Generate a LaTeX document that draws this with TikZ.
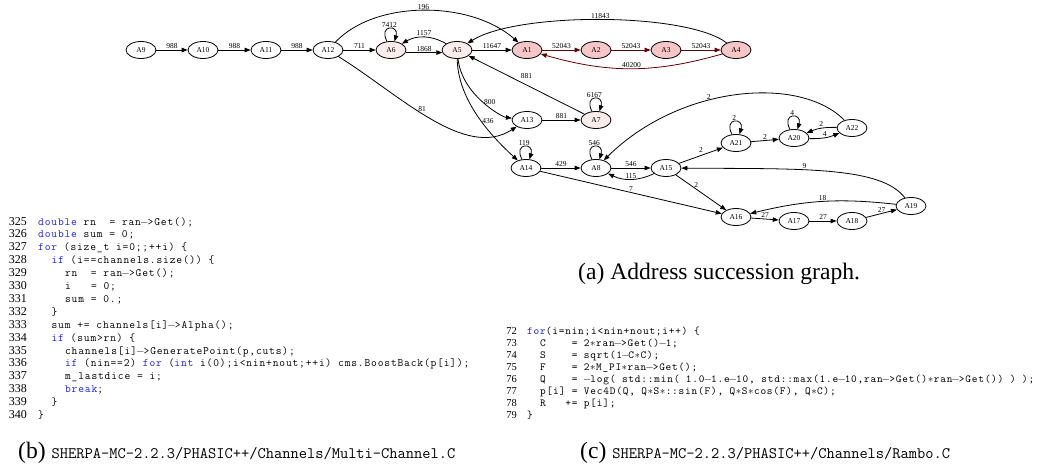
\documentclass[tikz,border=0pt]{standalone}
\usepackage{fontspec}
\setmainfont{Liberation Serif}
\newfontfamily\codefont[LetterSpace=7.5]{Latin Modern Mono}
\usepackage{xcolor}
\usepackage{tikz}
\usetikzlibrary{arrows.meta,shapes.geometric}

\definecolor{hotfill}{RGB}{248,198,198}
\definecolor{warmfill}{RGB}{253,236,236}
\definecolor{hotedge}{RGB}{100,0,0}
\definecolor{kwblue}{RGB}{30,30,235}

\newcommand{\kw}[1]{\textcolor{kwblue}{#1}}
\newcommand{\cmi}{\makebox[0.6em]{\(-\)}}
\newcommand{\cst}{\makebox[0.6em]{\(*\)}}
\newcommand{\csk}{\hspace{0.6em}}
\newcommand{\codeset}[1]{\fontsize{#1}{12}\codefont\spaceskip=0.6em\relax}
\newcommand{\pathfont}{\fontsize{16}{18}\selectfont\ttfamily}

\tikzset{
  addr/.style={draw, ellipse, line width=0.8pt, minimum width=30pt, minimum height=17pt, inner sep=0pt, font=\fontsize{7.5}{8}\selectfont},
  warm/.style={addr, fill=warmfill},
  hot/.style={addr, fill=hotfill},
  succ/.style={-{Triangle[length=6pt,width=4.5pt]}, line width=0.8pt},
  hotpath/.style={succ, draw=hotedge},
  lab/.style={inner sep=1pt, font=\fontsize{7.5}{8}\selectfont},
  lnumb/.style={anchor=base east, inner sep=0pt, font=\fontsize{12}{12}\selectfont},
  lnumc/.style={anchor=base east, inner sep=0pt, font=\fontsize{10.5}{12}\selectfont},
  codeb/.style={anchor=base west, inner sep=0pt, font=\codeset{11.2}},
  codec/.style={anchor=base west, inner sep=0pt, font=\codeset{10.8}},
  capt/.style={anchor=base west, inner sep=0pt, font=\fontsize{23.6}{26}\selectfont}
}

\begin{document}
\begin{tikzpicture}[x=1pt,y=1pt]
\useasboundingbox (0,0) rectangle (1051,-465);

\node[addr] (A9) at (141,-50) {A9};
\node[addr] (A10) at (203,-50) {A10};
\node[addr] (A11) at (266,-50) {A11};
\node[addr] (A12) at (328,-50) {A12};
\node[warm] (A6) at (391,-50) {A6};
\node[warm] (A5) at (457,-50) {A5};
\node[hot] (A1) at (527,-50) {A1};
\node[hot] (A2) at (596,-50) {A2};
\node[hot] (A3) at (666,-50) {A3};
\node[hot] (A4) at (736,-50) {A4};
\node[addr] (A13) at (527,-120) {A13};
\node[warm] (A7) at (596,-120) {A7};
\node[addr] (A14) at (526,-168) {A14};
\node[addr] (A8) at (596,-168) {A8};
\node[addr] (A15) at (666,-168) {A15};
\node[addr] (A21) at (736,-143) {A21};
\node[addr] (A20) at (794,-138) {A20};
\node[addr] (A22) at (852,-128) {A22};
\node[addr] (A16) at (736,-217) {A16};
\node[addr] (A17) at (794,-221) {A17};
\node[addr] (A18) at (852,-221) {A18};
\node[addr] (A19) at (911,-206) {A19};

\foreach \s/\t/\w in {A9/A10/988, A10/A11/988, A11/A12/988, A12/A6/711, A5/A1/11647, A13/A7/881,
    A14/A8/429, A8/A15/546, A21/A20/2, A16/A17/27, A17/A18/27, A18/A19/27, A14/A16/7}
  \draw[succ] (\s) -- (\t) node[lab, midway, above] {\w};
\foreach \s/\t in {A1/A2, A2/A3, A3/A4}
  \draw[hotpath] (\s) -- (\t) node[lab, midway, above] {52043};
\foreach \a/\w in {A6/7412, A7/6167, A14/119, A8/546, A21/2, A20/4}
  \draw[succ] (\a.115) .. controls +(-9,17) and +(5,17) .. (\a.68) node[lab, midway, above] {\w};

\draw[succ] (A12) .. controls +(47,50) and +(-57,50) .. (A1) node[lab, midway, above] {196};
\draw[succ] (A5) to[bend right=30] node[lab, above] {1157} (A6);
\draw[succ] (A6.-10) -- (A5.190) node[lab, midway, above] {1868};
\draw[hotpath] (A4) to[bend left=16] node[lab, above] {40200} (A1);
\draw[succ] (A4) .. controls +(-50,38) and +(60,38) .. (A5) node[lab, midway, above] {11843};
\draw[succ] (A7) -- (A5) node[lab, midway, above=5pt] {881};
\draw[succ] (A5) .. controls +(5,-45) and +(-25,3) .. (A13) node[lab, pos=0.5, right] {800};
\draw[succ] (A5) .. controls +(1,-50) and +(-36,33) .. (A14) node[lab, pos=0.55, right] {436};
\draw[succ] (A12) .. controls +(72,-45) and +(-62,-40) .. (A13) node[lab, pos=0.45, above] {81};
\draw[succ] (A15) to[bend left=25] node[lab, above=-0.5pt] {115} (A8);
\draw[succ] (A15) -- (A16) node[lab, pos=0.3, right=2pt] {2};
\draw[succ] (A15) -- (A21) node[lab, midway, above=2pt] {2};
\draw[succ] (A22) to[bend right=12] node[lab, above] {2} (A20);
\draw[succ] (A20) to[bend right=12] node[lab, above] {4} (A22);
\draw[succ] (A22) .. controls +(-52,53) and +(84,83) .. (A8) node[lab, pos=0.6, above] {2};
\draw[succ] (A19) .. controls +(-30,40) and +(134,-1) .. (A15) node[lab, pos=0.6, above] {9};
\draw[succ] (A19) to[bend right=10] node[lab, above] {18} (A16);

\node[capt] (capa) at (578,-279) {(a) Address succession graph.};

\foreach \n [count=\k from 0] in {325,...,340}
  \node[lnumb] (nb\n) at (27,{-225-12.9*\k}) {\n};
\node[codeb] (cb325) at (38,-225) {\kw{double} rn\csk{} = ran\cmi>Get();};
\node[codeb] (cb326) at (38,-237.9) {\kw{double} sum = 0;};
\node[codeb] (cb327) at (38,-250.8) {\kw{for} (size\_t i=0;;++i) \{};
\node[codeb] (cb328) at (51.4,-263.7) {\kw{if} (i==channels.size()) \{};
\node[codeb] (cb329) at (64.9,-276.6) {rn\csk{} = ran\cmi>Get();};
\node[codeb] (cb330) at (64.9,-289.5) {i\csk\csk{} = 0;};
\node[codeb] (cb331) at (64.9,-302.4) {sum = 0.;};
\node[codeb] (cb332) at (51.4,-315.3) {\}};
\node[codeb] (cb333) at (51.4,-328.2) {sum += channels[i]\cmi>Alpha();};
\node[codeb] (cb334) at (51.4,-341.1) {\kw{if} (sum>rn) \{};
\node[codeb] (cb335) at (64.9,-354) {channels[i]\cmi>GeneratePoint(p,cuts);};
\node[codeb] (cb336) at (64.9,-366.9) {\kw{if} (nin==2) \kw{for} (\kw{int} i(0);i<nin+nout;++i) cms.BoostBack(p[i]);};
\node[codeb] (cb337) at (64.9,-379.8) {m\_lastdice = i;};
\node[codeb] (cb338) at (64.9,-392.7) {\kw{break};};
\node[codeb] (cb339) at (51.4,-405.6) {\}};
\node[codeb] (cb340) at (38,-418.5) {\}};
\node[capt] (capb) at (18,-458) {(b) {\pathfont SHERPA-MC-2.2.3/PHASIC++/Channels/Multi-Channel.C}};

\foreach \n [count=\k from 0] in {72,...,79}
  \node[lnumc] (nc\n) at (517,{-334-12*\k}) {\n};
\node[codec] (cc72) at (527,-334) {\kw{for}(i=nin;i<nin+nout;i++) \{};
\node[codec] (cc73) at (540,-346) {C\csk\csk\csk{} = 2\cst ran\cmi>Get()\cmi 1;};
\node[codec] (cc74) at (540,-358) {S\csk\csk\csk{} = sqrt(1\cmi C\cst C);};
\node[codec] (cc75) at (540,-370) {F\csk\csk\csk{} = 2\cst M\_PI\cst ran\cmi>Get();};
\node[codec] (cc76) at (540,-382) {Q\csk\csk\csk{} = \cmi log( std::min( 1.0\cmi 1.e\cmi 10, std::max(1.e\cmi 10,ran\cmi>Get()\cst ran\cmi>Get()) ) );};
\node[codec] (cc77) at (540,-394) {p[i] = Vec4D(Q, Q\cst S\cst ::sin(F), Q\cst S\cst cos(F), Q\cst C);};
\node[codec] (cc78) at (540,-406) {R\csk\csk{} += p[i];};
\node[codec] (cc79) at (527,-418) {\}};
\node[capt] (capc) at (580,-458) {(c) {\pathfont SHERPA-MC-2.2.3/PHASIC++/Channels/Rambo.C}};
\end{tikzpicture}
\end{document}
